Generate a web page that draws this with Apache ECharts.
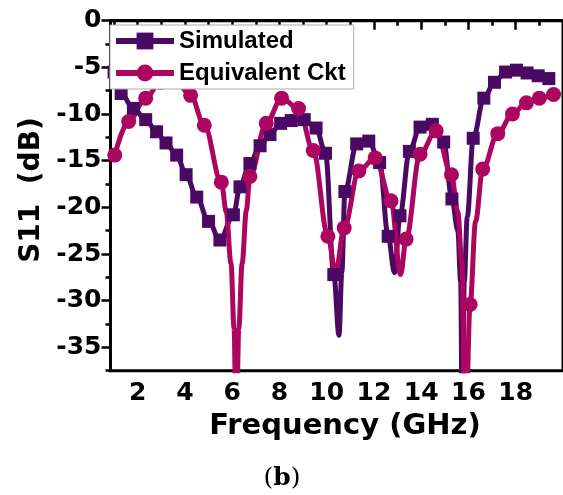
<!DOCTYPE html>
<html>
<head>
<meta charset="utf-8">
<script src="https://cdn.jsdelivr.net/npm/echarts@6/dist/echarts.min.js"></script>
<style>html,body{margin:0;padding:0;background:#fff;}#c{width:563px;height:495px;}</style>
</head>
<body>
<div id="c"></div>
<script>
// Simulated: marker points (square symbols)
const simF  = [1.0, 1.3, 1.82, 2.34, 2.8, 3.2, 3.65, 4.05, 4.5, 5.0, 5.48, 6.05, 6.33, 6.75, 7.18, 7.6, 8.05, 8.5, 9.05, 9.55, 9.95, 10.3, 10.77, 11.27, 11.78, 12.24, 12.6, 13.1, 13.5, 13.95, 14.47, 14.95, 15.3, 16.2, 16.65, 17.1, 17.57, 18.03, 18.48, 18.95, 19.4];
const simDb = [-5.5, -7.8, -9.4, -10.6, -11.9, -13.1, -14.4, -16.5, -18.9, -21.5, -23.5, -20.8, -17.8, -15.3, -13.4, -12.2, -11.0, -10.7, -10.6, -11.5, -14.2, -27.2, -18.3, -13.2, -12.9, -15.2, -23.1, -20.9, -14.0, -11.4, -11.1, -13.0, -19.1, -12.6, -8.3, -6.6, -5.5, -5.3, -5.6, -5.9, -6.2];
// Simulated: extra curve points between markers (resonance dips)
const simDipF  = [10.52, 10.64, 12.87, 15.55, 15.67, 15.74, 15.82, 15.95];
const simDipDb = [-33.7, -27.0, -27.0, -22.5, -28.0, -45.0, -28.0, -21.0];

// Equivalent circuit: marker points (circle symbols)
const eqF  = [1.03, 1.62, 2.34, 2.95, 3.6, 4.24, 4.82, 5.54, 6.75, 7.44, 8.09, 8.81, 9.43, 10.05, 10.74, 11.36, 12.05, 12.72, 13.36, 13.95, 14.63, 15.28, 16.07, 16.6, 17.24, 17.86, 18.45, 19.0, 19.6];
const eqDb = [-14.4, -10.8, -8.3, -6.6, -6.4, -8.0, -11.2, -17.3, -16.7, -11.0, -8.3, -9.4, -13.9, -23.1, -22.2, -16.1, -14.7, -19.3, -23.4, -14.3, -11.8, -16.5, -30.4, -15.9, -12.1, -10.0, -8.8, -8.3, -7.9];
// Equivalent circuit: extra curve points (dips)
const eqDipF  = [5.75, 5.95, 6.08, 6.17, 6.28, 6.42, 6.6, 10.38, 13.13, 15.55, 15.72, 15.87, 16.3];
const eqDipDb = [-20.5, -26.0, -33.0, -45.0, -33.0, -26.0, -20.3, -27.0, -27.2, -20.5, -26.0, -45.0, -21.5];

const xLabels = [2, 4, 6, 8, 10, 12, 14, 16, 18];
const xMinorTicks = [1, 3, 5, 7, 9, 11, 13, 15, 17, 19];
const yLabels = [0, -5, -10, -15, -20, -25, -30, -35];

const names = ['Simulated', 'Equivalent Ckt'];
const colors = ['#4a0a64', '#ad0660'];

function build(mf, md, ef, ed) {
  const pts = mf.map((f, i) => ({ value: [f, md[i]] }))
    .concat(ef.map((f, i) => ({ value: [f, ed[i]], symbol: 'none' })));
  pts.sort((a, b) => a.value[0] - b.value[0]);
  return pts;
}

const FONT = 'DejaVu Sans';
const chart = echarts.init(document.getElementById('c'), null, { renderer: 'canvas' });

const xMin = 0.85, xMax = 20;
const pxPerGHz = 23.9;
const gridLeft = 110.5, gridTop = 20.7, gridW = (xMax - xMin) * pxPerGHz, gridH = 350;

chart.setOption({
  animation: false,
  backgroundColor: '#fff',
  grid: { left: gridLeft, top: gridTop, width: gridW, height: gridH, show: true, borderColor: '#000', borderWidth: 3, backgroundColor: 'transparent' },
  legend: {
    orient: 'vertical', left: 110, top: 25,
    itemWidth: 58, itemHeight: 21, itemGap: 8,
    padding: [4, 8, 4, 3],
    backgroundColor: '#fff', borderColor: '#aaa', borderWidth: 1,
    lineStyle: { width: 6 },
    textStyle: { fontFamily: 'Liberation Sans', fontWeight: 'bold', fontSize: 24, lineHeight: 24, color: '#000' },
    data: names
  },
  xAxis: [{
    type: 'value', min: xMin, max: xMax,
    axisLine: { show: true, lineStyle: { color: '#000', width: 3 } },
    axisTick: { show: true, length: 9, customValues: xLabels, lineStyle: { color: '#000', width: 2.5 } },
    splitLine: { show: false },
    axisLabel: { margin: 10, customValues: xLabels, fontFamily: FONT, fontWeight: 'bold', fontSize: 25, color: '#000' }
  }, {
    type: 'value', min: xMin, max: xMax, position: 'bottom',
    axisLine: { show: false },
    axisTick: { show: true, length: 5, customValues: xMinorTicks, lineStyle: { color: '#000', width: 2.5 } },
    axisLabel: { show: false }, splitLine: { show: false }
  }],
  yAxis: [{
    type: 'value', min: -37.5, max: 0, interval: 2.5,
    axisLine: { show: true, lineStyle: { color: '#000', width: 3 } },
    axisTick: { show: true, length: 5, lineStyle: { color: '#000', width: 2.5 } },
    splitLine: { show: false },
    axisLabel: { margin: 9, fontFamily: FONT, fontWeight: 'bold', fontSize: 25, color: '#000',
      formatter: v => (yLabels.indexOf(v) >= 0 ? String(v) : '') }
  }, {
    type: 'value', min: -37.5, max: 0, interval: 2.5, position: 'left',
    axisLine: { show: false },
    axisTick: { show: true, length: 9, customValues: yLabels, lineStyle: { color: '#000', width: 2.5 } },
    axisLabel: { show: false }, splitLine: { show: false }
  }],
  series: [{
    name: names[0], type: 'line', xAxisIndex: 0, yAxisIndex: 0,
    data: build(simF, simDb, simDipF, simDipDb),
    smooth: 0.35, smoothMonotone: 'x', clip: true,
    symbol: 'rect', symbolSize: 13, showAllSymbol: true,
    lineStyle: { color: colors[0], width: 5 },
    itemStyle: { color: colors[0] }
  }, {
    name: names[1], type: 'line', xAxisIndex: 0, yAxisIndex: 0,
    data: build(eqF, eqDb, eqDipF, eqDipDb),
    smooth: 0.35, smoothMonotone: 'x', clip: true,
    symbol: 'circle', symbolSize: 15, showAllSymbol: true,
    lineStyle: { color: colors[1], width: 5 },
    itemStyle: { color: colors[1] }
  }],
  graphic: [{
    type: 'text', x: 32, y: 190, rotation: Math.PI / 2,
    style: { text: 'S11  (dB)', fontFamily: FONT, fontWeight: 'bold', fontSize: 28, fill: '#000', align: 'center', verticalAlign: 'middle' }
  }, {
    type: 'text', x: 345, y: 426,
    style: { text: 'Frequency (GHz)', fontFamily: FONT, fontWeight: 'bold', fontSize: 29, fill: '#000', align: 'center', verticalAlign: 'middle' }
  }, {
    type: 'text', x: 282, y: 478,
    style: {
      text: '{p|(}{b|b}{p|)}', align: 'center', verticalAlign: 'middle',
      rich: {
        p: { fontFamily: 'DejaVu Serif', fontSize: 25, fill: '#000' },
        b: { fontFamily: 'DejaVu Serif', fontWeight: 'bold', fontSize: 25, fill: '#000' }
      }
    }
  }]
});
</script>
</body>
</html>
